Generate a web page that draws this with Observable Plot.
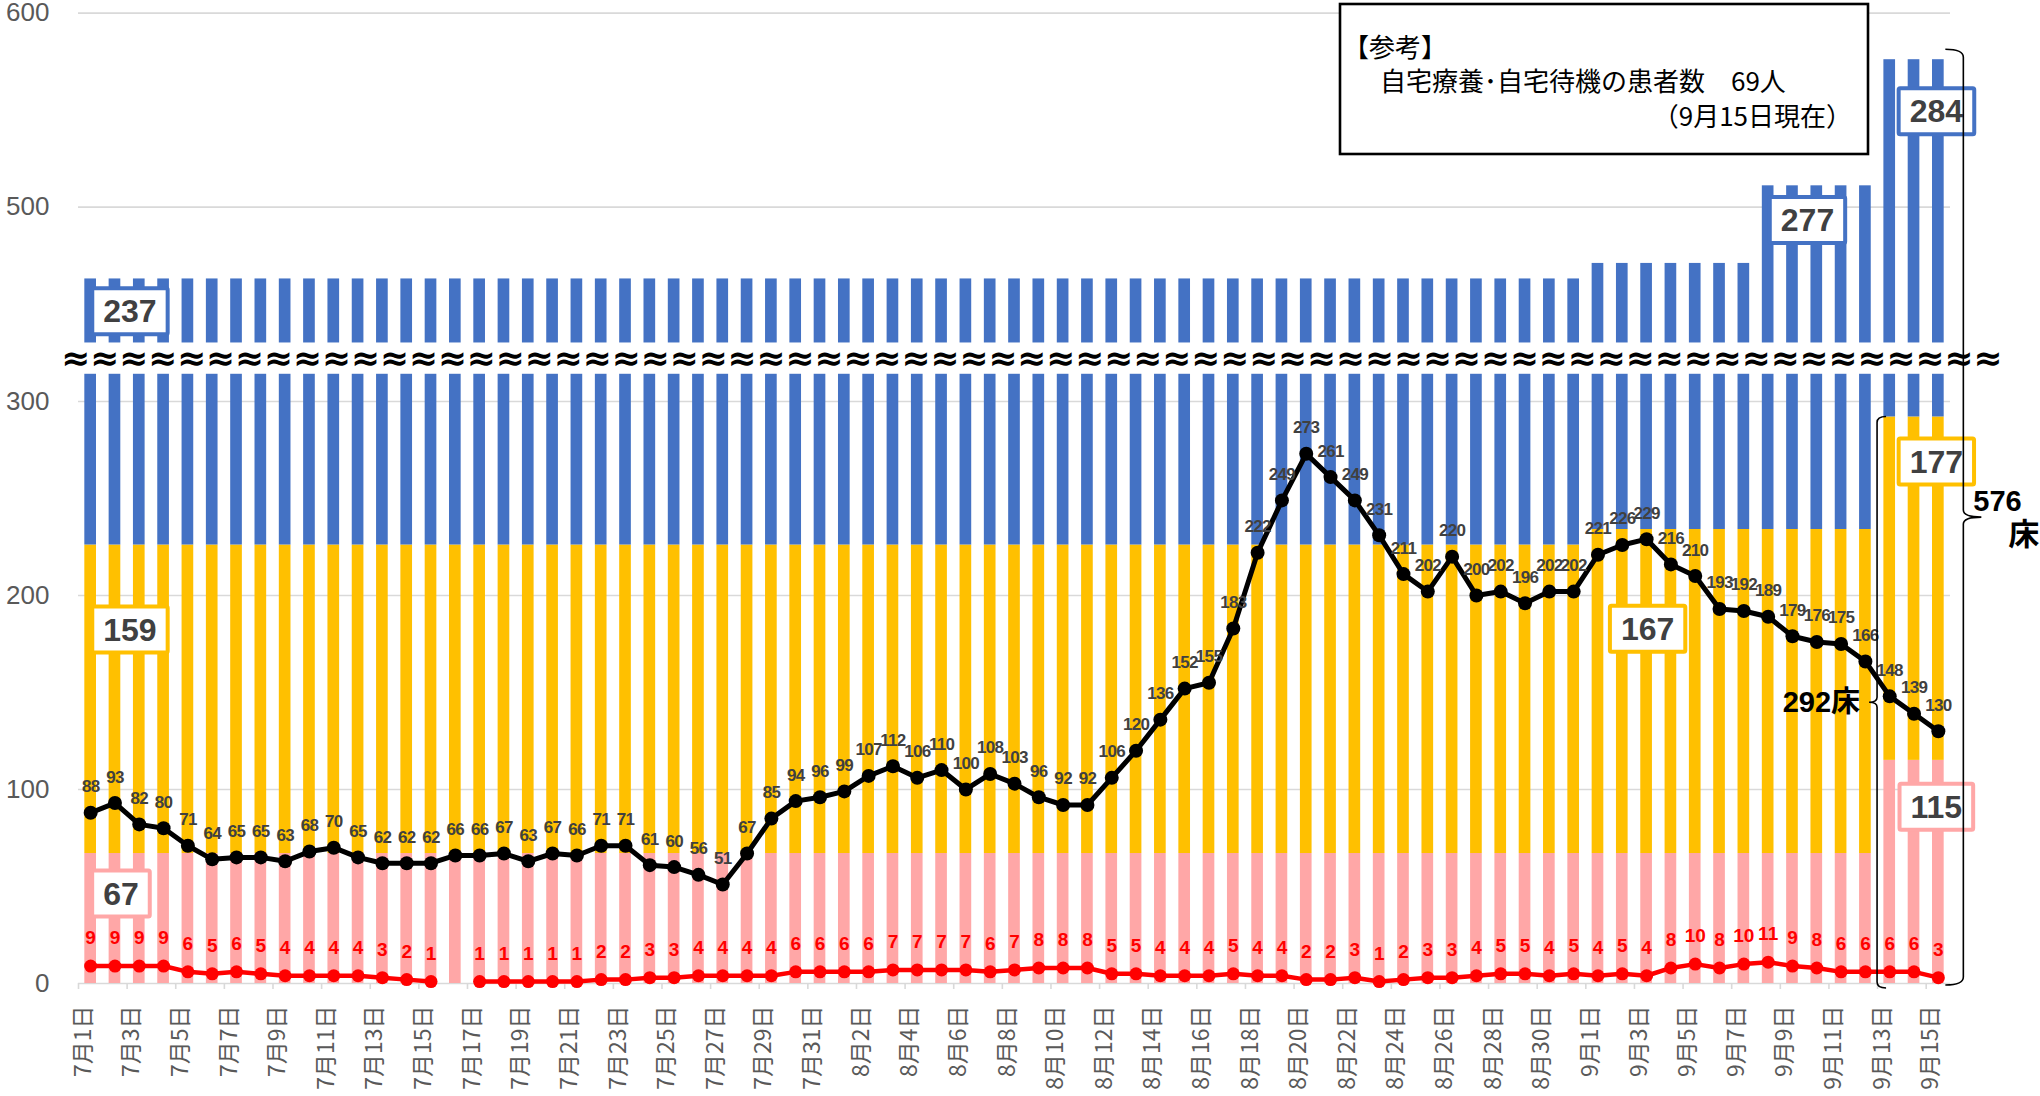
<!DOCTYPE html>
<html>
<head>
<meta charset="utf-8">
<script src="https://cdn.jsdelivr.net/npm/d3@7"></script>
<script src="https://cdn.jsdelivr.net/npm/@observablehq/plot@0.6"></script>
<style>
  html, body { margin: 0; padding: 0; background: #ffffff; overflow: hidden; }
  #chart { position: relative; width: 2040px; height: 1096px; }
  #chart svg { max-width: none; }
</style>
</head>
<body>
<div id="chart"></div>
<script>
// ---------------- DATA ----------------
const dates = [
  "7/1","7/2","7/3","7/4","7/5","7/6","7/7","7/8","7/9","7/10","7/11","7/12","7/13","7/14","7/15","7/16",
  "7/17","7/18","7/19","7/20","7/21","7/22","7/23","7/24","7/25","7/26","7/27","7/28","7/29","7/30","7/31",
  "8/1","8/2","8/3","8/4","8/5","8/6","8/7","8/8","8/9","8/10","8/11","8/12","8/13","8/14","8/15","8/16",
  "8/17","8/18","8/19","8/20","8/21","8/22","8/23","8/24","8/25","8/26","8/27","8/28","8/29","8/30","8/31",
  "9/1","9/2","9/3","9/4","9/5","9/6","9/7","9/8","9/9","9/10","9/11","9/12","9/13","9/14","9/15"
];

// bed stacks (bottom -> top)
const bedKinds = ["重症者用病床", "中等症者等用病床", "追加確保病床"];
const bedsSevere = [
  67,67,67,67,67,67,67,67,67,67,67,67,67,67,67,67,
  67,67,67,67,67,67,67,67,67,67,67,67,67,67,67,
  67,67,67,67,67,67,67,67,67,67,67,67,67,67,67,67,
  67,67,67,67,67,67,67,67,67,67,67,67,67,67,67,
  67,67,67,67,67,67,67,67,67,67,67,67,115,115,115
];
const bedsModerate = [
  159,159,159,159,159,159,159,159,159,159,159,159,159,159,159,159,
  159,159,159,159,159,159,159,159,159,159,159,159,159,159,159,
  159,159,159,159,159,159,159,159,159,159,159,159,159,159,159,159,
  159,159,159,159,159,159,159,159,159,159,159,159,159,159,159,
  167,167,167,167,167,167,167,167,167,167,167,167,177,177,177
];
const bedsExtra = [
  237,237,237,237,237,237,237,237,237,237,237,237,237,237,237,237,
  237,237,237,237,237,237,237,237,237,237,237,237,237,237,237,
  237,237,237,237,237,237,237,237,237,237,237,237,237,237,237,237,
  237,237,237,237,237,237,237,237,237,237,237,237,237,237,237,
  237,237,237,237,237,237,237,277,277,277,277,277,284,284,284
];

// hospitalized patients (black line)
const hospitalized = [
  88,93,82,80,71,64,65,65,63,68,70,65,62,62,62,66,
  66,67,63,67,66,71,71,61,60,56,51,67,85,94,96,
  99,107,112,106,110,100,108,103,96,92,92,106,120,136,152,155,
  183,222,249,273,261,249,231,211,202,220,200,202,196,202,202,
  221,226,229,216,210,193,192,189,179,176,175,166,148,139,130
];
// severe patients (red line); null = no value
const severe = [
  9,9,9,9,6,5,6,5,4,4,4,4,3,2,1,null,
  1,1,1,1,1,2,2,3,3,4,4,4,4,6,6,
  6,6,7,7,7,7,6,7,8,8,8,5,5,4,4,4,
  5,4,4,2,2,3,1,2,3,3,4,5,5,4,5,
  4,5,4,8,10,8,10,11,9,8,6,6,6,6,3
];

const tickDates = [
  "7/1","7/3","7/5","7/7","7/9","7/11","7/13","7/15","7/17","7/19","7/21","7/23","7/25","7/27","7/29","7/31",
  "8/2","8/4","8/6","8/8","8/10","8/12","8/14","8/16","8/18","8/20","8/22","8/24","8/26","8/28","8/30",
  "9/1","9/3","9/5","9/7","9/9","9/11","9/13","9/15"
];
const tickLabels = [
  "7月1日","7月3日","7月5日","7月7日","7月9日","7月11日","7月13日","7月15日","7月17日","7月19日","7月21日","7月23日","7月25日","7月27日","7月29日","7月31日",
  "8月2日","8月4日","8月6日","8月8日","8月10日","8月12日","8月14日","8月16日","8月18日","8月20日","8月22日","8月24日","8月26日","8月28日","8月30日",
  "9月1日","9月3日","9月5日","9月7日","9月9日","9月11日","9月13日","9月15日"
];
const yTicks = [0, 100, 200, 300, 500, 600];

// labelled bed counts (series, date of the label, level where the label sits)
const boxSeries = ["extra", "moderate", "severe", "moderate", "extra", "extra", "moderate", "severe"];
const boxDates  = ["7/2",   "7/2",      "7/2",    "9/3",      "9/9",   "9/15",  "9/15",     "9/15"];
const boxLevels = [446,     182,        46,       182.5,      493,     549,     268.6,      90.7];

const noteTitle = "【参考】";
const noteLine = "自宅療養･自宅待機の患者数　69人";
const noteDate = "（9月15日現在）";
const totalBedsLabel = ["576", "床"];
const coreBedsLabel = "292床";

// ---------------- LAYOUT / STYLE ----------------
const W = 2040, H = 1096;
const ML = 78, MR = 90, MT = 1, MB = 113;
const Y0 = H - MB;
const BREAK_LO = 314, BREAK_HI = 430, Y_TOP = 606, GAP = 31.3;
const PX = (Y0 - MT - GAP) / (BREAK_LO + Y_TOP - BREAK_HI);
const yDomain = [0, BREAK_LO, BREAK_HI, Y_TOP];
const yRange = [Y0, Y0 - BREAK_LO * PX, Y0 - BREAK_LO * PX - GAP, MT];
const PAD_IN = 0.52, PAD_OUT = 0.26;
const STEP = (W - ML - MR) / (dates.length - PAD_IN + 2 * PAD_OUT);

const COLORS = { severe: "#FFA7A7", moderate: "#FFC000", extra: "#4472C4" };
const seriesArrays = { severe: bedsSevere, moderate: bedsModerate, extra: bedsExtra };
const boxDx = [15, 15, 6, 1, 15, -2, -2, -2];
const BOX_TEXT = "#404041";
const LINE_LABEL = "#404040";

const NUM_FONT = "'Liberation Sans', Arial, sans-serif";
const NARROW_FONT = "'Liberation Sans Narrow', 'Arial Narrow', 'Liberation Sans', sans-serif";
const CJK_FONT = "'Noto Sans CJK JP', 'Noto Sans', sans-serif";

// ---------------- TABLES ----------------
const bedTable = [];
dates.forEach((d, i) => {
  bedTable.push({date: d, kind: bedKinds[0], value: bedsSevere[i]});
  bedTable.push({date: d, kind: bedKinds[1], value: bedsModerate[i]});
  bedTable.push({date: d, kind: bedKinds[2], value: bedsExtra[i]});
});
const hospTable = dates.map((d, i) => ({date: d, v: hospitalized[i]}));
const sevTable = dates.map((d, i) => ({date: d, v: severe[i] == null ? NaN : severe[i]}));
const ticksTable = tickDates.map((d, i) => ({date: d, label: tickLabels[i]}));
const boxes = boxSeries.map((s, i) => ({
  date: boxDates[i],
  level: boxLevels[i],
  text: String(seriesArrays[s][dates.indexOf(boxDates[i])]),
  color: COLORS[s],
  dx: boxDx[i]
}));

// ---------------- PLOT ----------------
const chart = Plot.plot({
  width: W, height: H,
  marginLeft: ML, marginRight: MR, marginTop: MT, marginBottom: MB,
  style: {background: "#ffffff", overflow: "visible"},
  x: {type: "band", domain: dates, paddingInner: PAD_IN, paddingOuter: PAD_OUT, round: false, axis: null},
  y: {type: "linear", domain: yDomain, range: yRange, axis: null},
  color: {domain: bedKinds, range: [COLORS.severe, COLORS.moderate, COLORS.extra]},
  marks: [
    Plot.ruleY(yTicks, {stroke: "#d9d9d9", strokeWidth: 1.6}),
    Plot.barY(bedTable, {x: "date", y: "value", fill: "kind", order: bedKinds}),
    Plot.rect([0], {y1: BREAK_LO, y2: BREAK_HI, fill: "#ffffff"}),
    Plot.text([(BREAK_LO + BREAK_HI) / 2], {
      y: d => d, frameAnchor: "left", textAnchor: "start", dx: -17,
      text: () => "≈".repeat(67), fontSize: 34.6, fontWeight: "bold",
      fontFamily: "'DejaVu Sans', sans-serif", fill: "#000000"
    }),
    // axis tick marks (at band boundaries, every 2 days)
    Plot.ruleX(tickDates, {x: d => d, y1: 0, y2: -6 / PX, dx: -STEP / 2, stroke: "#d9d9d9", strokeWidth: 1.6}),
    // y tick labels
    Plot.text(yTicks, {
      y: d => d, text: d => String(d), frameAnchor: "left", textAnchor: "end", dx: -29,
      fontSize: 26, fontFamily: NARROW_FONT, fill: "#595959"
    }),
    // x tick labels
    Plot.text(ticksTable, {
      x: "date", text: "label", frameAnchor: "bottom", rotate: -90, textAnchor: "end", dy: 22,
      fontSize: 23, fontFamily: CJK_FONT, fill: "#595959"
    }),
    // bed count boxes
    ...boxes.map(b => Plot.text([b], {
      x: "date", y: "level", text: "text", dx: b.dx,
      fontSize: 32, fontWeight: "bold", fontFamily: NUM_FONT, fill: BOX_TEXT
    })),
    // hospitalized
    Plot.line(hospTable, {x: "date", y: "v", stroke: "#000000", strokeWidth: 5}),
    Plot.dot(hospTable, {x: "date", y: "v", r: 7, fill: "#000000"}),
    Plot.text(hospTable, {
      x: "date", y: "v", text: d => String(d.v), dy: -26,
      fontSize: 17, fontWeight: "bold", fontFamily: NUM_FONT, fill: LINE_LABEL
    }),
    // severe
    Plot.line(sevTable, {x: "date", y: "v", stroke: "#FF0000", strokeWidth: 4.5}),
    Plot.dot(sevTable, {x: "date", y: "v", r: 6.5, fill: "#FF0000"}),
    Plot.text(sevTable, {
      x: "date", y: "v", text: d => String(d.v), dy: -28,
      fontSize: 19, fontWeight: "bold", fontFamily: NUM_FONT, fill: "#FF0000"
    })
  ]
});

document.getElementById("chart").append(chart);

// ---------------- ANNOTATIONS ----------------
const svg = d3.select(chart);
let xs = null, ys = null;
try { xs = chart.scale("x"); ys = chart.scale("y"); } catch (e) {}
const bandX = (xs && typeof xs.apply === "function")
  ? xs.apply
  : d3.scaleBand().domain(dates).range([ML, W - MR]).paddingInner(PAD_IN).paddingOuter(PAD_OUT);
const bandW = (xs && xs.bandwidth) ? xs.bandwidth : STEP * (1 - PAD_IN);
const yPos = (ys && typeof ys.apply === "function")
  ? ys.apply
  : d3.scaleLinear().domain(yDomain).range(yRange);
const xc = d => bandX(d) + bandW / 2;

function fillOf(node) {
  let el = node;
  while (el && el !== chart) {
    const a = el.getAttribute && el.getAttribute("fill");
    if (a) return a.toLowerCase();
    el = el.parentNode;
  }
  return null;
}

// tighter digits for the hospitalized labels (narrow, like the original)
svg.selectAll("text").each(function () {
  if (fillOf(this) === LINE_LABEL) this.setAttribute("letter-spacing", "-0.7");
});

// boxes behind bed counts
const boxTexts = [];
svg.selectAll("text").each(function () {
  if (fillOf(this) === BOX_TEXT) boxTexts.push(this);
});
boxTexts.forEach((node, i) => {
  const b = boxes[i];
  if (!b) return;
  const bb = node.getBBox();
  const padX = 11, h = 46;
  const cy = bb.y + bb.height / 2;
  const r = document.createElementNS("http://www.w3.org/2000/svg", "rect");
  r.setAttribute("x", bb.x - padX);
  r.setAttribute("y", cy - h / 2);
  r.setAttribute("width", bb.width + 2 * padX);
  r.setAttribute("height", h);
  r.setAttribute("fill", "#ffffff");
  r.setAttribute("stroke", b.color);
  r.setAttribute("stroke-width", 4);
  r.setAttribute("rx", 1.5);
  const t = node.getAttribute("transform");
  if (t) r.setAttribute("transform", t);
  node.parentNode.insertBefore(r, node);
});

const ann = svg.append("g").attr("class", "annotations").attr("text-anchor", "start");

// 576 brace (total beds)
{
  const k = dates.length - 1;
  const x0 = xc(dates[k]) + 25.5;
  const yT = yPos(bedsSevere[k] + bedsModerate[k] + bedsExtra[k]) - 10;
  const yB = yPos(0) + 2;
  const yM = (yT + yB) / 2;
  ann.append("path")
    .attr("d", `M${x0 - 18},${yT} Q${x0},${yT} ${x0},${yT + 8} L${x0},${yM - 7} Q${x0},${yM} ${x0 + 18},${yM} Q${x0},${yM} ${x0},${yM + 7} L${x0},${yB - 8} Q${x0},${yB} ${x0 - 18},${yB}`)
    .attr("fill", "none").attr("stroke", "#000").attr("stroke-width", 1.6);
  ann.append("text").attr("x", x0 + 10).attr("y", yM - 16).attr("dy", "0.35em").attr("text-anchor", "start")
    .attr("font-family", NUM_FONT).attr("font-weight", "bold").attr("font-size", 29).attr("fill", "#000")
    .text(totalBedsLabel[0]);
  ann.append("text").attr("x", x0 + 45).attr("y", yM + 17).attr("dy", "0.35em").attr("text-anchor", "start")
    .attr("font-family", CJK_FONT).attr("font-weight", "bold").attr("font-size", 31).attr("fill", "#000")
    .text(totalBedsLabel[1]);
}

// 292 bracket (core beds)
{
  const i13 = dates.indexOf("9/13");
  const x1 = xc("9/13") - STEP / 2;
  const yT = yPos(bedsSevere[i13] + bedsModerate[i13]);
  const yB = yPos(0) + 5;
  const yM = (yT + yB) / 2;
  ann.append("path")
    .attr("d", `M${x1 + 9},${yT} Q${x1},${yT} ${x1},${yT + 6} L${x1},${yM - 5} Q${x1},${yM} ${x1 - 8},${yM} Q${x1},${yM} ${x1},${yM + 5} L${x1},${yB - 6} Q${x1},${yB} ${x1 + 9},${yB}`)
    .attr("fill", "none").attr("stroke", "#000").attr("stroke-width", 1.6);
  ann.append("text").attr("x", x1 - 17).attr("y", yM).attr("dy", "0.35em").attr("text-anchor", "end")
    .attr("font-family", NUM_FONT + ", " + CJK_FONT).attr("font-weight", "bold").attr("font-size", 29).attr("fill", "#000")
    .text(coreBedsLabel);
}

// reference note box
{
  const g = ann.append("g");
  g.append("rect").attr("x", 1340).attr("y", 4).attr("width", 528).attr("height", 150)
    .attr("fill", "#ffffff").attr("stroke", "#000").attr("stroke-width", 2.6);
  g.append("text").attr("x", 1343).attr("y", 48).attr("dy", "0.35em").attr("text-anchor", "start")
    .attr("font-family", CJK_FONT).attr("font-size", 26).attr("fill", "#000").text(noteTitle);
  g.append("text").attr("x", 1380).attr("y", 82).attr("dy", "0.35em").attr("text-anchor", "start")
    .attr("font-family", CJK_FONT).attr("font-size", 26).attr("fill", "#000").text(noteLine);
  g.append("text").attr("x", 1852).attr("y", 117).attr("dy", "0.35em").attr("text-anchor", "end")
    .attr("font-family", CJK_FONT).attr("font-size", 26).attr("fill", "#000").text(noteDate);
}
</script>
</body>
</html>
